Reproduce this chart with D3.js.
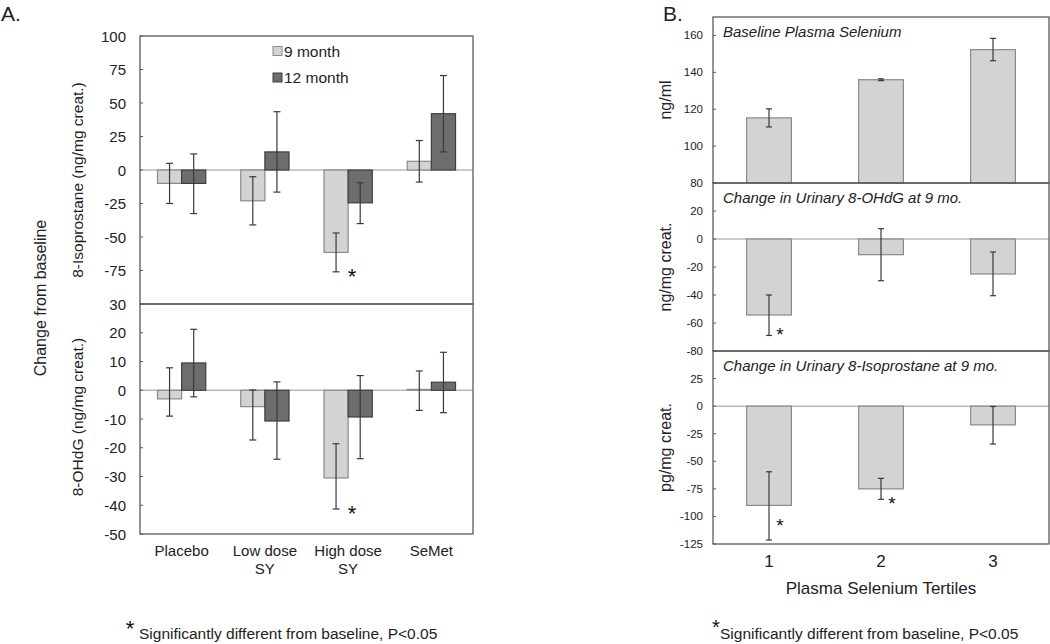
<!DOCTYPE html>
<html><head><meta charset="utf-8">
<script src="https://cdn.jsdelivr.net/npm/d3@7"></script>
<style>body{margin:0;background:#fff}svg{font-family:"Liberation Sans",Arial,sans-serif}</style>
</head><body><svg id="c" width="1050" height="644"></svg>
<script>
// ---------- Panel A data ----------
const catsA = ["Placebo", "Low dose SY", "High dose SY", "SeMet"];
const catLinesA = [["Placebo"], ["Low dose", "SY"], ["High dose", "SY"], ["SeMet"]];
const seriesA = ["9 month", "12 month"];
const iso9 = [-10, -23, -61.5, 6.5];
const iso9Lo = [-25, -41, -76, -9];
const iso9Hi = [5, -5, -47, 22];
const iso12 = [-10, 13.5, -24.5, 42];
const iso12Lo = [-32.5, -16.5, -40, 13.5];
const iso12Hi = [12, 43.5, -9.5, 70.5];
const ohdg9 = [-3, -5.7, -30.5, 0.3];
const ohdg9Lo = [-9, -17.3, -41.3, -7];
const ohdg9Hi = [7.8, 0.1, -18.6, 6.7];
const ohdg12 = [9.5, -10.7, -9.3, 2.8];
const ohdg12Lo = [-2.3, -24, -23.8, -7.8];
const ohdg12Hi = [21.2, 2.9, 5.1, 13.2];
const sigIso9 = [false, false, true, false];
const sigOhdg9 = [false, false, true, false];
const ticksAtop = [100, 75, 50, 25, 0, -25, -50, -75];
const ticksAbot = [30, 20, 10, 0, -10, -20, -30, -40, -50];

// ---------- Panel B data ----------
const catsB = ["1", "2", "3"];
const seBase = [115.3, 136, 152.3];
const seBaseLo = [110.4, 135.5, 146.3];
const seBaseHi = [120.2, 136.5, 158.4];
const ohdgB = [-54.3, -11.2, -25];
const ohdgBLo = [-68.9, -29.8, -40.5];
const ohdgBHi = [-40, 7.4, -9.3];
const isoB = [-90, -75, -17];
const isoBLo = [-121.4, -84.5, -34.4];
const isoBHi = [-59.5, -65.5, -0.3];
const sigOhdgB = [true, false, false];
const sigIsoB = [true, true, false];
const ticksB1 = [160, 140, 120, 100, 80];
const ticksB2 = [20, 0, -20, -40, -60, -80];
const ticksB3 = [25, 0, -25, -50, -75, -100, -125];

const svg = d3.select("#c");
const LIGHT = "#d3d3d3", LIGHT_S = "#8a8a8a", DARK = "#6d6d6d", DARK_S = "#3f3f3f";
const FRAME = "#5a5a5a", ZERO = "#b8b8b8", ERR = "#3a3a3a";

function errBar(g, x, y1, y2, cap) {
  g.append("line").attr("x1", x).attr("x2", x).attr("y1", y1).attr("y2", y2).attr("stroke", ERR).attr("stroke-width", 1.2);
  [y1, y2].forEach(y => g.append("line").attr("x1", x - cap).attr("x2", x + cap).attr("y1", y).attr("y2", y).attr("stroke", ERR).attr("stroke-width", 1.2));
}
function star(g, x, cy, size) {
  g.append("text").attr("x", x).attr("y", cy + size * 0.55).attr("text-anchor", "middle")
    .attr("font-size", size).attr("fill", "#111").text("*");
}

// ---------- Panel A ----------
const xA = d3.scaleBand().domain(catsA).range([140, 473]).paddingInner(0.42).paddingOuter(0.21);
const xsA = d3.scaleBand().domain(seriesA).range([0, xA.bandwidth()]);
const yAt = d3.scaleLinear().domain([-100, 100]).range([304, 36]);
const yAb = d3.scaleLinear().domain([-50, 30]).range([534, 304]);

function panelA(y, m9, lo9, hi9, m12, lo12, hi12, sig, ticks) {
  const g = svg.append("g");
  const [yb, yt] = y.range();
  // zero line
  g.append("line").attr("x1", 140).attr("x2", 473).attr("y1", y(0)).attr("y2", y(0)).attr("stroke", ZERO).attr("stroke-width", 1.5);
  const sets = [[m9, lo9, hi9, LIGHT, LIGHT_S, seriesA[0]], [m12, lo12, hi12, DARK, DARK_S, seriesA[1]]];
  sets.forEach(([m, lo, hi, fill, stroke, s]) => {
    catsA.forEach((c, i) => {
      const x0 = xA(c) + xsA(s), w = xsA.bandwidth();
      g.append("rect").attr("x", x0).attr("width", w)
        .attr("y", Math.min(y(0), y(m[i]))).attr("height", Math.abs(y(m[i]) - y(0)))
        .attr("fill", fill).attr("stroke", stroke).attr("stroke-width", 1.2);
    });
  });
  sets.forEach(([m, lo, hi, fill, stroke, s]) => {
    catsA.forEach((c, i) => {
      const xc = xA(c) + xsA(s) + xsA.bandwidth() / 2;
      errBar(g, xc, y(hi[i]), y(lo[i]), 3.5);
    });
  });
  catsA.forEach((c, i) => {
    if (sig[i]) star(g, xA(c) + xsA(seriesA[0]) + xsA.bandwidth() / 2 + 16, y(lo9[i]), 22);
  });
  g.append("rect").attr("x", 140).attr("y", yt).attr("width", 333).attr("height", yb - yt)
    .attr("fill", "none").attr("stroke", FRAME).attr("stroke-width", 1.3);
  ticks.forEach(t => {
    g.append("line").attr("x1", 140).attr("x2", 143).attr("y1", y(t)).attr("y2", y(t)).attr("stroke", FRAME);
    g.append("text").attr("x", 126).attr("y", y(t) + 5.5).attr("text-anchor", "end")
      .attr("font-size", 15).attr("fill", "#222").text(t);
  });
}
panelA(yAt, iso9, iso9Lo, iso9Hi, iso12, iso12Lo, iso12Hi, sigIso9, ticksAtop);
panelA(yAb, ohdg9, ohdg9Lo, ohdg9Hi, ohdg12, ohdg12Lo, ohdg12Hi, sigOhdg9, ticksAbot);

// category labels
catLinesA.forEach((lines, i) => {
  const t = svg.append("text").attr("text-anchor", "middle").attr("font-size", 15).attr("fill", "#222");
  lines.forEach((l, j) => t.append("tspan").attr("x", xA(catsA[i]) + xA.bandwidth() / 2).attr("y", 556 + j * 18).text(l));
});
// legend
const leg = svg.append("g");
seriesA.forEach((s, i) => {
  const yy = 51 + i * 26.5;
  leg.append("rect").attr("x", 273).attr("y", yy - 4.5).attr("width", 9).attr("height", 9)
    .attr("fill", i ? DARK : LIGHT).attr("stroke", i ? DARK_S : LIGHT_S);
  leg.append("text").attr("x", 284).attr("y", yy + 5.5).attr("font-size", 15.5).attr("fill", "#222").text(s);
});
// axis titles
svg.append("text").attr("transform", "translate(83,180) rotate(-90)").attr("text-anchor", "middle")
  .attr("font-size", 15.5).attr("fill", "#222").text("8-Isoprostane (ng/mg creat.)");
svg.append("text").attr("transform", "translate(83,417) rotate(-90)").attr("text-anchor", "middle")
  .attr("font-size", 15.5).attr("fill", "#222").text("8-OHdG  (ng/mg creat.)");
svg.append("text").attr("transform", "translate(46,298) rotate(-90)").attr("text-anchor", "middle")
  .attr("font-size", 16).attr("fill", "#222").text("Change from baseline");
svg.append("text").attr("x", 1).attr("y", 21).attr("font-size", 21).attr("fill", "#222").text("A.");
svg.append("text").attr("x", 130).attr("y", 636).attr("text-anchor", "middle").attr("font-size", 22).attr("fill", "#111").text("*");
svg.append("text").attr("x", 139).attr("y", 639).attr("font-size", 15.5).attr("fill", "#222").text("Significantly different from baseline, P<0.05");

// ---------- Panel B ----------
const xB = d3.scaleBand().domain(catsB).range([713, 1049]).paddingInner(0.6).paddingOuter(0.3);
const yB1 = d3.scaleLinear().domain([80, 170]).range([183, 17]);
const yB2 = d3.scaleLinear().domain([-80, 40]).range([351, 183]);
const yB3 = d3.scaleLinear().domain([-125, 50]).range([544, 351]);

function panelB(y, base, m, lo, hi, sig, ticks, title, ytitle, zero) {
  const g = svg.append("g");
  const [yb, yt] = y.range();
  if (zero) g.append("line").attr("x1", 713).attr("x2", 1049).attr("y1", y(0)).attr("y2", y(0)).attr("stroke", ZERO).attr("stroke-width", 1.5);
  catsB.forEach((c, i) => {
    g.append("rect").attr("x", xB(c)).attr("width", xB.bandwidth())
      .attr("y", Math.min(y(base), y(m[i]))).attr("height", Math.abs(y(m[i]) - y(base)))
      .attr("fill", LIGHT).attr("stroke", LIGHT_S).attr("stroke-width", 1.2);
  });
  catsB.forEach((c, i) => {
    const xc = xB(c) + xB.bandwidth() / 2;
    errBar(g, xc, y(hi[i]), y(lo[i]), 3);
    if (sig[i]) star(g, xc + 11, Math.min(y(lo[i]), y(m[i]) + 16), 19);
  });
  g.append("rect").attr("x", 713).attr("y", yt).attr("width", 336).attr("height", yb - yt)
    .attr("fill", "none").attr("stroke", FRAME).attr("stroke-width", 1.3);
  ticks.forEach(t => {
    g.append("line").attr("x1", 713).attr("x2", 716).attr("y1", y(t)).attr("y2", y(t)).attr("stroke", FRAME);
    g.append("text").attr("x", 703).attr("y", y(t) + 4).attr("text-anchor", "end")
      .attr("font-size", 11.5).attr("fill", "#222").text(t);
  });
  g.append("text").attr("x", 723).attr("y", yt + 20).attr("font-size", 15).attr("font-style", "italic")
    .attr("fill", "#222").text(title);
  g.append("text").attr("transform", `translate(671,${(yt + yb) / 2}) rotate(-90)`).attr("text-anchor", "middle")
    .attr("font-size", 16).attr("fill", "#222").text(ytitle);
}
panelB(yB1, 80, seBase, seBaseLo, seBaseHi, [false, false, false], ticksB1, "Baseline Plasma Selenium", "ng/ml", false);
panelB(yB2, 0, ohdgB, ohdgBLo, ohdgBHi, sigOhdgB, ticksB2, "Change in Urinary 8-OHdG at 9 mo.", "ng/mg creat.", true);
panelB(yB3, 0, isoB, isoBLo, isoBHi, sigIsoB, ticksB3, "Change in Urinary 8-Isoprostane at 9 mo.", "pg/mg creat.", true);

catsB.forEach(c => svg.append("text").attr("x", xB(c) + xB.bandwidth() / 2).attr("y", 567).attr("text-anchor", "middle")
  .attr("font-size", 17).attr("fill", "#222").text(c));
svg.append("text").attr("x", 881).attr("y", 594).attr("text-anchor", "middle").attr("font-size", 17).attr("fill", "#222").text("Plasma Selenium Tertiles");
svg.append("text").attr("x", 663).attr("y", 21).attr("font-size", 21).attr("fill", "#222").text("B.");
svg.append("text").attr("x", 716).attr("y", 634).attr("text-anchor", "middle").attr("font-size", 20).attr("fill", "#111").text("*");
svg.append("text").attr("x", 720).attr("y", 639).attr("font-size", 15.5).attr("fill", "#222").text("Significantly different from baseline, P<0.05");
</script></body></html>
